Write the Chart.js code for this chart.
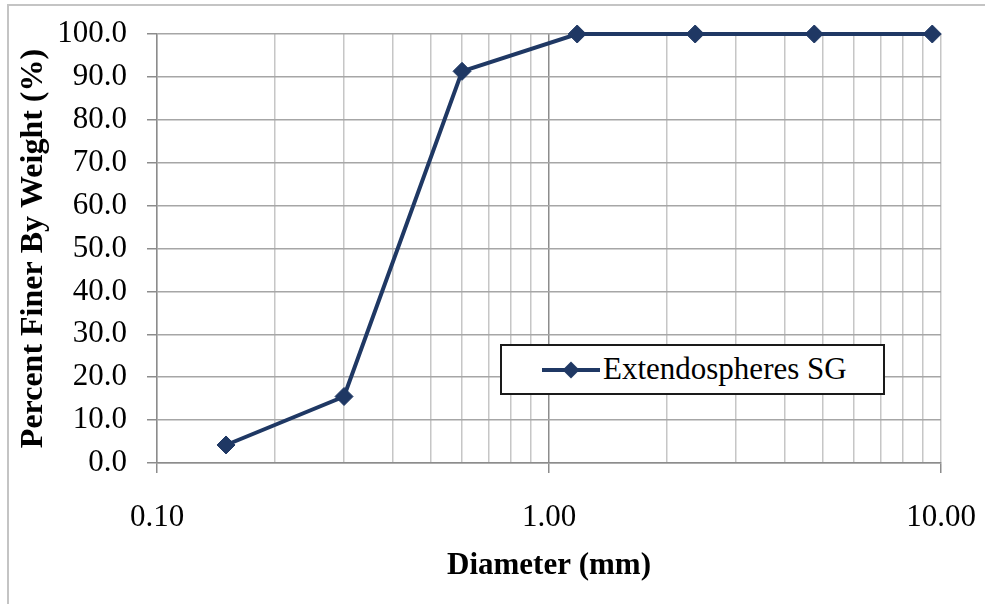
<!DOCTYPE html>
<html>
<head>
<meta charset="utf-8">
<script src="https://cdn.jsdelivr.net/npm/chart.js@4/dist/chart.umd.min.js"></script>
<style>
  html, body { margin: 0; padding: 0; background: #fff; overflow: hidden; }
  #wrap { position: relative; width: 985px; height: 604px; }
  #frame { position: absolute; left: 7px; top: 4px; width: 1000px; height: 640px; border: 2px solid #c4c4c4; }
  #salesChart { position: absolute; left: 0; top: 0; }
  #legend {
    position: absolute; left: 500px; top: 344px; width: 381px; height: 47px;
    border: 2px solid #1a1a1a; background: #fff;
    font-family: "Liberation Serif", "Times New Roman", serif; font-size: 31px; color: #000;
  }
  #legend .line { position: absolute; left: 40px; top: 22px; width: 58px; height: 4px; background: #1f3864; }
  #legend .dot { position: absolute; left: 63px; top: 18px; width: 12px; height: 12px; background: #1f3864; transform: rotate(45deg); }
  #legend .txt { position: absolute; left: 101px; top: 5px; line-height: 36px; white-space: nowrap; }
</style>
</head>
<body>
<div id="wrap">
  <div id="frame"></div>
  <canvas id="salesChart" width="985" height="604"></canvas>
  <div id="legend"><div class="line"></div><div class="dot"></div><div class="txt">Extendospheres SG</div></div>
</div>
<script>
const seriesName = 'Extendospheres SG';
const diameters = [0.15, 0.3, 0.6, 1.18, 2.36, 4.75, 9.5];
const percentFiner = [4.2, 15.5, 91.3, 100, 100, 100, 100];
const xTitle = 'Diameter (mm)';
const yTitle = 'Percent Finer By Weight (%)';

const lineColor = '#1f3864';
const serif = '"Liberation Serif", "Times New Roman", serif';

function isDecade(v) {
  const l = Math.log10(v);
  return Math.abs(l - Math.round(l)) < 1e-6;
}

const chartCanvas = document.getElementById('salesChart');

new Chart(chartCanvas, {
  type: 'scatter',
  data: {
    datasets: [{
      label: seriesName,
      data: diameters.map(function (d, i) { return { x: d, y: percentFiner[i] }; }),
      showLine: true,
      borderColor: lineColor,
      backgroundColor: lineColor,
      borderWidth: 4,
      pointStyle: 'rectRot',
      pointRadius: 9,
      pointHoverRadius: 9,
      pointBorderWidth: 1,
      tension: 0,
      clip: false
    }]
  },
  options: {
    responsive: false,
    animation: false,
    events: [],
    layout: { padding: { left: 0, right: 44, top: 34, bottom: 0 } },
    plugins: {
      legend: { display: false },
      tooltip: { enabled: false }
    },
    scales: {
      x: {
        type: 'logarithmic',
        min: 0.1,
        max: 10,
        afterBuildTicks: function (scale) {
          // drop the 1.5 tick, keep 1..9 per decade
          scale.ticks = scale.ticks.filter(function (t) {
            const m = t.value / Math.pow(10, Math.floor(Math.log10(t.value) + 1e-9));
            return Math.abs(m - Math.round(m)) < 1e-6;
          });
        },
        afterFit: function (scale) {
          scale.height = 141;
          scale.paddingLeft = 0;
          scale.paddingRight = 0;
        },
        border: { color: '#8c8c8c', width: 1.5 },
        grid: {
          color: function (ctx) {
            if (ctx.tick && Math.abs(ctx.tick.value - 1) < 1e-9) return '#8c8c8c';
            return '#c6c6c6';
          },
          lineWidth: 1.5,
          tickLength: 10,
          tickColor: function (ctx) {
            return ctx.tick && isDecade(ctx.tick.value) ? '#8c8c8c' : 'rgba(0,0,0,0)';
          }
        },
        ticks: {
          autoSkip: false,
          maxRotation: 0,
          padding: 26,
          color: '#000',
          font: { family: serif, size: 31 },
          callback: function (value) {
            return isDecade(value) ? Number(value).toFixed(2) : '';
          }
        },
        title: {
          display: true,
          text: xTitle,
          color: '#000',
          padding: { top: 0, bottom: 19 },
          font: { family: serif, size: 31, weight: 'bold' }
        }
      },
      y: {
        min: 0,
        max: 100,
        afterFit: function (scale) {
          scale.width = 157;
          scale.paddingTop = 0;
          scale.paddingBottom = 0;
        },
        border: { color: '#8c8c8c', width: 1.5 },
        grid: {
          color: '#a6a6a6',
          lineWidth: 1.5,
          tickLength: 10,
          tickColor: '#8c8c8c'
        },
        ticks: {
          stepSize: 10,
          padding: 20,
          color: '#000',
          font: { family: serif, size: 31 },
          callback: function (value) {
            return Number(value).toFixed(1);
          }
        },
        title: {
          display: true,
          text: yTitle,
          color: '#000',
          padding: { top: 15, bottom: 0 },
          font: { family: serif, size: 32, weight: 'bold' }
        }
      }
    }
  }
});
</script>
</body>
</html>
